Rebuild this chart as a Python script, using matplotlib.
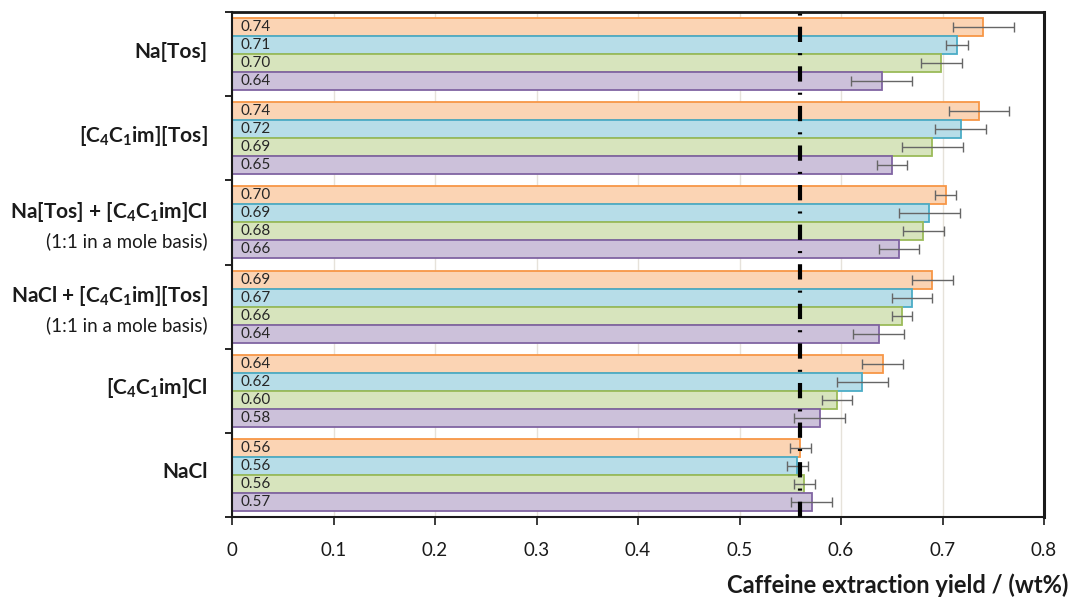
import matplotlib
matplotlib.use("Agg")
import matplotlib.pyplot as plt
import numpy as np

plt.rcParams['font.family'] = ['Lato', 'DejaVu Sans']
plt.rcParams['mathtext.fontset'] = 'custom'
plt.rcParams['mathtext.rm'] = 'Lato'
plt.rcParams['mathtext.bf'] = 'Lato:bold'
plt.rcParams['mathtext.default'] = 'regular'
plt.rcParams['lines.scale_dashes'] = False

# Groups from top to bottom
groups = ["Na[Tos]", r"[C$_\mathbf{4}$C$_\mathbf{1}$im][Tos]",
          r"Na[Tos] + [C$_\mathbf{4}$C$_\mathbf{1}$im]Cl",
          r"NaCl + [C$_\mathbf{4}$C$_\mathbf{1}$im][Tos]",
          r"[C$_\mathbf{4}$C$_\mathbf{1}$im]Cl", "NaCl"]
subtitles = ["", "", "(1:1 in a mole basis)", "(1:1 in a mole basis)", "", ""]

# series (orange, blue, green, purple) per group, top to bottom
orange = [0.740, 0.736, 0.703, 0.690, 0.641, 0.560]
blue   = [0.714, 0.718, 0.687, 0.670, 0.621, 0.557]
green  = [0.699, 0.690, 0.681, 0.660, 0.596, 0.564]
purple = [0.640, 0.650, 0.657, 0.637, 0.579, 0.571]

orange_err = [0.030, 0.030, 0.010, 0.020, 0.020, 0.010]
blue_err   = [0.011, 0.025, 0.030, 0.020, 0.025, 0.010]
green_err  = [0.020, 0.030, 0.020, 0.010, 0.015, 0.010]
purple_err = [0.030, 0.015, 0.020, 0.025, 0.025, 0.020]

ref_line = 0.56

series = [orange, blue, green, purple]
errs = [orange_err, blue_err, green_err, purple_err]
fills = ["#fbd4b4", "#b7dde8", "#d7e4bd", "#ccc1da"]
edges = ["#f79646", "#4bacc6", "#9bbb59", "#8064a2"]

fig = plt.figure(figsize=(10.72, 6.0), dpi=100)
ax = fig.add_axes([232/1072, 1-517/600, (1044-232)/1072, (517-12)/600])

n = len(groups)
h = 0.214
offsets = [1.5, 0.5, -0.5, -1.5]
for gi in range(n):
    center = n - gi - 0.5
    for si in range(4):
        y = center + offsets[si] * h
        v = series[si][gi]
        ax.barh(y, v, height=h, color=fills[si], edgecolor=edges[si],
                linewidth=1.3, zorder=2)
        ax.errorbar(v, y, xerr=errs[si][gi], fmt='none', ecolor="#666666",
                    elinewidth=1.0, capsize=3.5, capthick=1.0, zorder=3)
        ax.text(0.008, y, f"{v:.2f}", va='center', ha='left', fontsize=11,
                color="#262626", zorder=4)
    ax.text(-0.03, center + (0.12 if subtitles[gi] else 0.03), groups[gi],
            transform=ax.get_yaxis_transform(), ha='right', va='center',
            fontsize=15, fontweight='bold', color="#1a1a1a")
    if subtitles[gi]:
        ax.text(-0.03, center - 0.22, subtitles[gi],
                transform=ax.get_yaxis_transform(), ha='right', va='center',
                fontsize=13.5, color="#1a1a1a")

ax.axvline(ref_line, color='black', linewidth=3.0,
           linestyle=(0, (11, 8, 1.5, 8)), zorder=5)

ax.set_xlim(0, 0.8)
ax.set_ylim(0, n)
ax.set_xticks(np.arange(0, 0.81, 0.1))
ax.set_xticklabels(["0", "0.1", "0.2", "0.3", "0.4", "0.5", "0.6", "0.7", "0.8"])
ax.set_yticks(np.arange(0, n + 1))
ax.set_yticklabels([])
ax.tick_params(axis='x', direction='out', length=6, width=1.2, labelsize=13.5,
               pad=12, colors='#1a1a1a')
ax.tick_params(axis='y', direction='out', length=5, width=1.2)
ax.grid(axis='x', color="#e6e2da", linewidth=1.0, zorder=0)
ax.set_axisbelow(True)

for side, w in [('left', 1.5), ('bottom', 1.5), ('top', 2.0), ('right', 2.2)]:
    ax.spines[side].set_linewidth(w)
    ax.spines[side].set_color('#1a1a1a')

fig.text(1068/1072, 1-585/600, "Caffeine extraction yield / (wt%)", ha='right',
         va='center', fontsize=17, fontweight='bold', color="#1a1a1a")

fig.savefig("out.png", dpi=100)
